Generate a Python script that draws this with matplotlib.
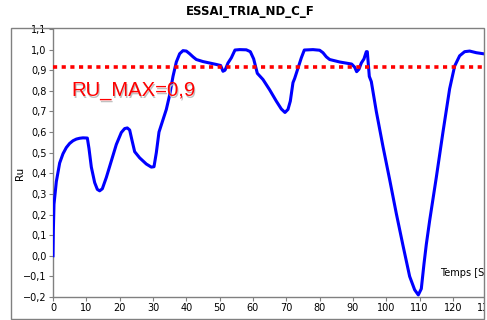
import numpy as np
import matplotlib
matplotlib.use("Agg")
import matplotlib.pyplot as plt
from matplotlib.ticker import FuncFormatter, MultipleLocator
from matplotlib.patches import Rectangle
import matplotlib.transforms as mtrans

title = "ESSAI_TRIA_ND_C_F"
ylabel = "Ru"
xlabel = "Temps [S]"
annot_text = "RU_MAX=0,9"
ru_max_line = 0.917

t = [0, 0.1, 0.3, 1, 2, 3, 4, 5, 6, 7, 8, 9, 10.3, 10.8, 11.5, 12.5, 13.3, 14, 14.8,
     16, 17.5, 19, 20.5, 21.5, 22.3, 23, 23.7, 24.5, 26, 28, 29.5, 30.3, 31, 31.8,
     32.5, 34, 35, 36, 37, 38, 39, 40, 41, 42, 43, 45, 47, 49, 50.3, 51, 51.6, 52.5,
     53.5, 54.6, 56, 58, 59.2, 60.2, 61.3, 63, 65, 67, 68.5, 69.6, 70.5, 71.2, 72,
     72.5, 73.5, 74.5, 75.4, 78, 80, 81, 82, 83, 86, 89.6, 90.5, 91.1, 91.8, 92.5,
     93.3, 94, 94.3, 94.9, 95.5, 97, 99, 101, 103, 105, 107, 108.5, 109.6, 110.5,
     111.3, 112, 113, 115, 117, 119, 120.5, 122, 123.5, 125, 127, 129.5, 130]
ru = [0.0, 0.12, 0.25, 0.36, 0.45, 0.495, 0.525, 0.545, 0.558, 0.566, 0.57, 0.572,
      0.571, 0.52, 0.43, 0.355, 0.322, 0.315, 0.325, 0.38, 0.46, 0.54, 0.598, 0.617,
      0.62, 0.61, 0.56, 0.505, 0.475, 0.445, 0.43, 0.432, 0.5, 0.6, 0.635, 0.71,
      0.78, 0.87, 0.94, 0.98, 0.995, 0.993, 0.98, 0.965, 0.952, 0.942, 0.935, 0.928,
      0.923, 0.895, 0.9, 0.935, 0.96, 0.998, 1.0, 0.999, 0.99, 0.955, 0.885, 0.855,
      0.805, 0.75, 0.712, 0.695, 0.71, 0.75, 0.84, 0.86, 0.91, 0.96, 0.998, 1.0,
      0.997, 0.985, 0.965, 0.952, 0.94, 0.93, 0.915, 0.893, 0.905, 0.935, 0.955,
      0.99, 0.99, 0.87, 0.845, 0.70, 0.53, 0.37, 0.205, 0.05, -0.10, -0.165, -0.19,
      -0.16, -0.04, 0.055, 0.17, 0.38, 0.60, 0.81, 0.92, 0.97, 0.99, 0.993, 0.985,
      0.979, 0.978]

W, H = 487, 320
fig = plt.figure(figsize=(W / 100, H / 100), dpi=100)

def fx(px):
    return px / W

def fy(py):
    return 1 - py / H

ax_left, ax_right, ax_top, ax_bottom = 53, 486.3, 29, 297
ax = fig.add_axes([fx(ax_left), fy(ax_bottom), (ax_right - ax_left) / W, (ax_bottom - ax_top) / H])

ax.plot(t, ru, color="#0000ff", lw=2.2, solid_joinstyle="round", zorder=3)
ax.plot([0, 130], [ru_max_line, ru_max_line], color="#ff0000", lw=2.6,
        dashes=(1.15, 1.25), dash_capstyle="butt", zorder=4)

ax.set_xlim(0, 130)
ax.set_ylim(-0.2, 1.1)
ax.xaxis.set_major_locator(MultipleLocator(10))
ax.yaxis.set_major_locator(MultipleLocator(0.1))

def fmt_y(v, pos):
    s = f"{v:.1f}".replace(".", ",")
    if s.startswith("-"):
        s = "\u2212" + s[1:]
    if s == "\u22120,0":
        s = "0,0"
    return s

def fmt_x(v, pos):
    return f"{v:.0f}"

ax.yaxis.set_major_formatter(FuncFormatter(fmt_y))
ax.xaxis.set_major_formatter(FuncFormatter(fmt_x))

gray = "#808080"
for s in ["top", "right"]:
    ax.spines[s].set_visible(False)
for s in ["left", "bottom"]:
    ax.spines[s].set_color(gray)
    ax.spines[s].set_linewidth(1.0)
ax.tick_params(axis="both", direction="out", length=3, width=0.8, color=gray,
               labelsize=7, labelcolor="black", pad=1.5)

# annotation with shadow
ann_x, ann_y = 5.4, 0.775
shadow = mtrans.offset_copy(ax.transData, fig=fig, x=1.5, y=-1.5, units="dots")
ax.text(ann_x, ann_y, annot_text, transform=shadow, fontsize=14.6, color="#c0c0c0",
        family="Liberation Sans", va="baseline", ha="left", zorder=5)
ax.text(ann_x, ann_y, annot_text, fontsize=14.6, color="#ff0000",
        family="Liberation Sans", va="baseline", ha="left", zorder=6)

ax.text(116.1, -0.084, xlabel, fontsize=7, color="black", va="center", ha="left",
        clip_on=True, zorder=6)

fig.text(fx(250), fy(12), title, fontsize=8.5, fontweight="bold", ha="center", va="center")
fig.text(fx(20), fy(173), ylabel, fontsize=7.5, rotation=90, ha="center", va="center")

# white mask on right edge and outer frame
fig.add_artist(Rectangle((fx(484.5), 0), 1 - fx(484.5), 1, transform=fig.transFigure,
                         facecolor="white", edgecolor="none", zorder=20))
fig.add_artist(Rectangle((fx(11), fy(319)), fx(484) - fx(11), fy(28) - fy(319),
                         transform=fig.transFigure, facecolor="none", edgecolor=gray,
                         lw=1.0, zorder=21))

fig.savefig("out.png", dpi=100)
